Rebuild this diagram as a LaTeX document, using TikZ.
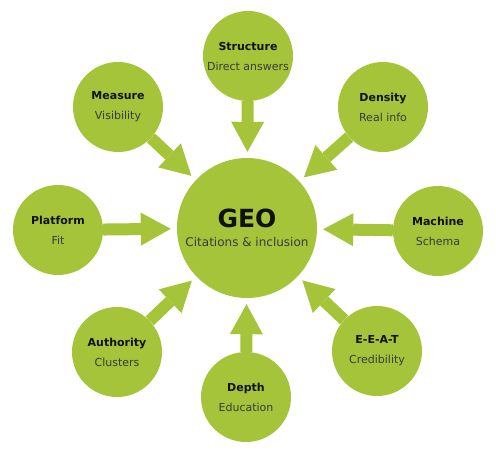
\documentclass[tikz,border=0pt]{standalone}
\usepackage{fontspec}
\setmainfont{DejaVu Sans}
\usetikzlibrary{arrows.meta,positioning}
\definecolor{geogreen}{HTML}{A5C43A}
\definecolor{titleblack}{HTML}{111111}
\definecolor{subgray}{HTML}{3A3A3A}
\pgfdeclarelayer{background}
\pgfsetlayers{background,main}
\newcommand{\spoketext}[2]{\textbf{#1}\\[7pt]{\color{subgray}#2}}

\begin{document}
\begin{tikzpicture}[x=1pt,y=-1pt,
  hub/.style={circle,fill=geogreen,minimum size=140pt,inner sep=0pt,align=center,text=titleblack,font=\fontsize{12}{14}\selectfont},
  spoke/.style={circle,fill=geogreen,minimum size=90pt,inner sep=0pt,align=center,text=titleblack,font=\fontsize{11}{13}\selectfont},
  feed/.style={-{Triangle[width=33pt,length=30pt,line width=0pt]},line width=12pt,color=geogreen,shorten >=6pt}]
\useasboundingbox (0,0) rectangle (496,456);
\node[hub] (geo) at (247,228) {{\fontsize{25}{28}\selectfont\bfseries GEO}\\[5pt]{\color{subgray}Citations \& inclusion}};
\node[spoke] (structure) at (248,56) {\spoketext{Structure}{Direct answers}};
\node[spoke] (density) at (383,107) {\spoketext{Density}{Real info}};
\node[spoke] (machine) at (438,231) {\spoketext{Machine}{Schema}};
\node[spoke] (eeat) at (377,351) {\spoketext{E-E-A-T}{Credibility}};
\node[spoke] (depth) at (246,397) {\spoketext{Depth}{Education}};
\node[spoke] (authority) at (117,352) {\spoketext{Authority}{Clusters}};
\node[spoke] (platform) at (58,230) {\spoketext{Platform}{Fit}};
\node[spoke] (measure) at (118,107) {\spoketext{Measure}{Visibility}};
% arrows sit behind the circles
\begin{pgfonlayer}{background}
\draw[feed] (structure) edge (geo);
\draw[feed] (density) edge (geo);
\draw[feed] (machine) edge (geo);
\draw[feed] (eeat) edge (geo);
\draw[feed] (depth) edge (geo);
\draw[feed] (authority) edge (geo);
\draw[feed] (platform) edge (geo);
\draw[feed] (measure) edge (geo);
\end{pgfonlayer}
\end{tikzpicture}
\end{document}
